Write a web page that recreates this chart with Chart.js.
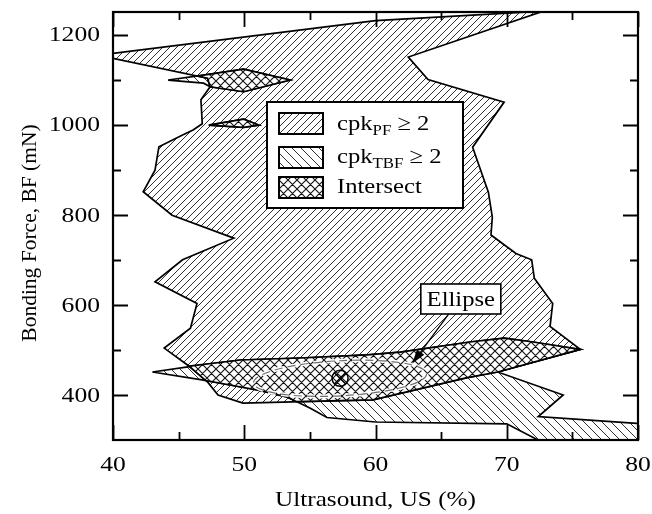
<!DOCTYPE html>
<html>
<head>
<meta charset="utf-8">
<title>Process window: cpk regions</title>
<script src="https://cdn.jsdelivr.net/npm/chart.js@4.4.1/dist/chart.umd.min.js"></script>
<style>
  html, body { margin: 0; padding: 0; background: #fff; }
  canvas { display: block; }
</style>
</head>
<body>
<canvas id="chart" width="652" height="514"></canvas>
<script>
// ---- axis ranges and tick values ----
const X_RANGE = [40, 80];
const Y_RANGE = [300, 1250];
const X_MAJOR_TICKS = [40, 50, 60, 70, 80];
const X_MINOR_TICKS = [45, 55, 65, 75];
const Y_MAJOR_TICKS = [400, 600, 800, 1000, 1200];
const Y_MINOR_TICKS = [500, 700, 900, 1100];

// ---- regions, as [ultrasound %, bonding force mN] vertices ----
// cpk of pull force >= 2
const PF_REGION = [
  [38.9, 1154], [60.0, 1231], [72.8, 1252], [62.5, 1150], [64.0, 1100], [69.8, 1050],
  [67.4, 950], [68.6, 850], [68.9, 795], [68.8, 755], [70.7, 714], [71.9, 700],
  [72.1, 659], [73.5, 603], [73.3, 552], [75.6, 501],
  [69.3, 451], [66.9, 438], [59.8, 389], [49.9, 382], [48.0, 400], [47.2, 429],
  [45.7, 466], [43.9, 504], [45.9, 548], [46.4, 603], [43.2, 651], [45.3, 700],
  [49.2, 748], [44.5, 799], [42.3, 851], [43.2, 899], [43.5, 951], [45.3, 977],
  [46.1, 988], [46.8, 1002], [46.7, 1055], [47.4, 1084], [47.2, 1103], [38.9, 1154]
];
// cpk of ball bond (TBF) >= 2 : lower band and two small islands
const TBF_BAND = [
  [43.0, 451], [46.1, 464], [49.7, 477.6], [54.3, 482], [59.4, 489], [61.9, 495],
  [67.2, 517.5], [69.8, 526], [72.0, 517.5], [75.6, 501], [69.3, 451], [74.3, 400],
  [72.4, 352], [79.9, 337], [82.0, 336], [82.0, 280], [73.7, 280], [70.0, 336],
  [60.0, 340], [56.3, 350], [55.0, 371], [53.3, 395], [51.0, 411], [46.9, 433], [43.0, 451]
];
const TBF_ISLAND_1100 = [
  [44.2, 1099], [46.9, 1110], [49.95, 1123], [53.5, 1099], [49.95, 1073], [47.4, 1084],
  [46.9, 1092], [44.2, 1099]
];
const TBF_ISLAND_1000 = [
  [47.3, 999], [49.95, 1012], [51.1, 999], [49.95, 994], [47.3, 999]
];
// overlap of both windows
const INTERSECT_BAND = [
  [45.8, 464], [49.7, 477.6], [54.3, 482], [59.4, 489], [61.9, 495], [67.2, 517.5],
  [69.8, 526], [72.0, 517.5], [75.6, 501], [69.3, 451], [66.9, 438], [59.8, 389],
  [54.0, 385], [53.3, 395], [51.0, 411], [47.07, 432], [45.8, 464]
];
const INTERSECT_ISLAND_1100 = [
  [46.4, 1108], [46.9, 1110], [49.95, 1123], [53.5, 1099], [49.95, 1073], [47.4, 1084],
  [47.2, 1103], [46.4, 1108]
];
const INTERSECT_ISLAND_1000 = TBF_ISLAND_1000;

// optimum setting and the ellipse drawn round it
const OPTIMUM = [57.3, 437];
const ELLIPSE_SEMI_AXES = [6.6, 39];   // in axis units
const ELLIPSE_TILT_DEG = -3;
const ELLIPSE_LABEL_AT = [66.5, 613];
const ELLIPSE_ARROW_TIP = [62.8, 470];

// ---- text ----
const FONT = '"Liberation Serif", "Times New Roman", Times, serif';
const X_TITLE = 'Ultrasound, US (%)';
const Y_TITLE = 'Bonding Force, BF (mN)';
const LEGEND_ROWS = [
  { main: 'cpk', sub: 'PF', tail: ' \u2265 2', key: 'pf' },
  { main: 'cpk', sub: 'TBF', tail: ' \u2265 2', key: 'tbf' },
  { main: 'Intersect', sub: '', tail: '', key: 'both' }
];

// ---- hatch fills ----
function hatch(size, dirs, bg, color, width) {
  const c = document.createElement('canvas');
  c.width = size; c.height = size;
  const g = c.getContext('2d');
  if (bg) { g.fillStyle = bg; g.fillRect(0, 0, size, size); }
  g.strokeStyle = color;
  g.lineWidth = width;
  g.beginPath();
  for (const d of dirs) {
    for (const o of [-size, 0, size]) {
      if (d === '/') { g.moveTo(o, size); g.lineTo(o + size, 0); }
      else { g.moveTo(o, 0); g.lineTo(o + size, size); }
    }
  }
  g.stroke();
  return g.createPattern(c, 'repeat');
}
const FILLS = {
  pf: hatch(7, ['/'], null, '#1a1a1a', 0.9),
  tbf: hatch(9, ['\\'], null, '#1a1a1a', 0.9),
  both: hatch(9, ['/', '\\'], '#ffffff', '#111111', 1.1)
};

function polygon(label, pts, fill, order) {
  return {
    label,
    data: pts.map(([x, y]) => ({ x, y })),
    showLine: true,
    fill: 'shape',
    backgroundColor: fill,
    borderColor: '#000',
    borderWidth: 1.7,
    borderJoinStyle: 'miter',
    pointRadius: 0,
    pointHoverRadius: 0,
    tension: 0,
    order
  };
}

// draws text widened horizontally like the typeset figure
function wideText(ctx, str, x, y, size, sx, align) {
  ctx.save();
  ctx.font = size + 'px ' + FONT;
  ctx.textBaseline = 'alphabetic';
  ctx.textAlign = align || 'left';
  ctx.translate(x, y);
  ctx.scale(sx, 1);
  ctx.fillStyle = '#000';
  ctx.fillText(str, 0, 0);
  const w = ctx.measureText(str).width * sx;
  ctx.restore();
  return w;
}

const annotations = {
  id: 'annotations',
  afterDatasetsDraw(chart) {
    const { ctx, scales: { x, y } } = chart;
    ctx.save();
    // dashed ellipse
    const cx = x.getPixelForValue(OPTIMUM[0]);
    const cy = y.getPixelForValue(OPTIMUM[1]);
    const rx = Math.abs(x.getPixelForValue(OPTIMUM[0] + ELLIPSE_SEMI_AXES[0]) - cx);
    const ry = Math.abs(y.getPixelForValue(OPTIMUM[1] + ELLIPSE_SEMI_AXES[1]) - cy);
    ctx.beginPath();
    ctx.ellipse(cx, cy, rx, ry, ELLIPSE_TILT_DEG * Math.PI / 180, 0, Math.PI * 2);
    ctx.setLineDash([8, 5]);
    ctx.strokeStyle = '#fff';
    ctx.lineWidth = 4;
    ctx.stroke();
    ctx.strokeStyle = '#6e6e6e';
    ctx.lineWidth = 1.2;
    ctx.stroke();
    ctx.setLineDash([]);

    // label box and arrow
    const lx = x.getPixelForValue(ELLIPSE_LABEL_AT[0]);
    const ly = y.getPixelForValue(ELLIPSE_LABEL_AT[1]);
    const bw = 80, bh = 30;
    const bl = lx - bw / 2, bt = ly - bh / 2;
    const tx = x.getPixelForValue(ELLIPSE_ARROW_TIP[0]);
    const ty = y.getPixelForValue(ELLIPSE_ARROW_TIP[1]);
    const sx0 = bl + bw * 0.35, sy0 = bt + bh;
    const ang = Math.atan2(ty - sy0, tx - sx0);
    const headLen = 14, headHalf = 4.5;
    ctx.strokeStyle = '#000';
    ctx.lineWidth = 1.3;
    ctx.beginPath();
    ctx.moveTo(sx0, sy0);
    ctx.lineTo(tx - Math.cos(ang) * headLen * 0.8, ty - Math.sin(ang) * headLen * 0.8);
    ctx.stroke();
    ctx.beginPath();
    ctx.moveTo(tx, ty);
    ctx.lineTo(tx - Math.cos(ang) * headLen - Math.sin(ang) * headHalf,
               ty - Math.sin(ang) * headLen + Math.cos(ang) * headHalf);
    ctx.lineTo(tx - Math.cos(ang) * headLen + Math.sin(ang) * headHalf,
               ty - Math.sin(ang) * headLen - Math.cos(ang) * headHalf);
    ctx.closePath();
    ctx.fillStyle = '#000';
    ctx.fill();

    ctx.fillStyle = '#fff';
    ctx.fillRect(bl, bt, bw, bh);
    ctx.lineWidth = 1.6;
    ctx.strokeRect(bl, bt, bw, bh);
    wideText(ctx, 'Ellipse', lx, bt + 22, 22, 1.12, 'center');

    // legend
    const L = { left: 267, top: 102, width: 196, height: 106 };
    ctx.fillStyle = '#fff';
    ctx.fillRect(L.left, L.top, L.width, L.height);
    ctx.lineWidth = 2;
    ctx.strokeStyle = '#000';
    ctx.strokeRect(L.left, L.top, L.width, L.height);
    const rowTops = [113, 147, 177];
    const baselines = [129.5, 162.5, 193];
    LEGEND_ROWS.forEach((row, i) => {
      const sxl = 279, sw = 44, sh = 21;
      ctx.fillStyle = FILLS[row.key];
      ctx.fillRect(sxl, rowTops[i], sw, sh);
      ctx.lineWidth = 2;
      ctx.strokeStyle = '#000';
      ctx.strokeRect(sxl, rowTops[i], sw, sh);
      let px = 337;
      px += wideText(ctx, row.main, px, baselines[i], 22, 1.12);
      if (row.sub) px += wideText(ctx, row.sub, px, baselines[i] + 5, 15, 1.12);
      if (row.tail) wideText(ctx, row.tail, px, baselines[i], 22, 1.12);
    });
    ctx.restore();
  }
};

const frame = {
  id: 'frame',
  afterDraw(chart) {
    const { ctx, chartArea: a, scales: { x, y } } = chart;
    ctx.save();
    ctx.strokeStyle = '#000';
    ctx.lineWidth = 1.8;
    ctx.beginPath();
    const xt = (v, len) => {
      const p = Math.round(x.getPixelForValue(v)) + 0.5;
      ctx.moveTo(p, a.bottom); ctx.lineTo(p, a.bottom - len);
      ctx.moveTo(p, a.top); ctx.lineTo(p, a.top + len);
    };
    const yt = (v, len) => {
      const p = Math.round(y.getPixelForValue(v)) + 0.5;
      ctx.moveTo(a.left, p); ctx.lineTo(a.left + len, p);
      ctx.moveTo(a.right, p); ctx.lineTo(a.right - len, p);
    };
    X_MAJOR_TICKS.forEach(v => xt(v, 15));
    X_MINOR_TICKS.forEach(v => xt(v, 8));
    Y_MAJOR_TICKS.forEach(v => yt(v, 15));
    Y_MINOR_TICKS.forEach(v => yt(v, 8));
    ctx.stroke();
    ctx.lineWidth = 2.2;
    ctx.strokeRect(a.left, a.top, a.right - a.left, a.bottom - a.top);

    // tick labels
    X_MAJOR_TICKS.forEach(v => {
      wideText(ctx, String(v), x.getPixelForValue(v), a.bottom + 31, 20, 1.28, 'center');
    });
    Y_MAJOR_TICKS.forEach(v => {
      wideText(ctx, String(v), a.left - 13, y.getPixelForValue(v) + 6.8, 20, 1.28, 'right');
    });
    // axis titles
    wideText(ctx, X_TITLE, (a.left + a.right) / 2, a.bottom + 66, 21, 1.2, 'center');
    ctx.save();
    ctx.translate(36, 233);
    ctx.rotate(-Math.PI / 2);
    wideText(ctx, Y_TITLE, 0, 0, 21.5, 1.0, 'center');
    ctx.restore();
    ctx.restore();
  }
};

const markerBase = {
  showLine: false, pointHoverRadius: 0, order: 0,
  data: [{ x: OPTIMUM[0], y: OPTIMUM[1] }]
};

new Chart(document.getElementById('chart'), {
  type: 'scatter',
  data: {
    datasets: [
      Object.assign({ label: 'optimum', pointStyle: 'circle', pointRadius: 8,
        pointBorderWidth: 1.5, pointBorderColor: '#000', pointBackgroundColor: 'rgba(0,0,0,0)' }, markerBase),
      Object.assign({ label: 'optimum x', pointStyle: 'crossRot', pointRadius: 8,
        pointBorderWidth: 1.5, pointBorderColor: '#000' }, markerBase),
      polygon('Intersect', INTERSECT_BAND, FILLS.both, 1),
      polygon('Intersect', INTERSECT_ISLAND_1100, FILLS.both, 1),
      polygon('Intersect', INTERSECT_ISLAND_1000, FILLS.both, 1),
      polygon('cpkTBF', TBF_BAND, FILLS.tbf, 2),
      polygon('cpkTBF', TBF_ISLAND_1100, FILLS.tbf, 2),
      polygon('cpkTBF', TBF_ISLAND_1000, FILLS.tbf, 2),
      polygon('cpkPF', PF_REGION, FILLS.pf, 3)
    ]
  },
  options: {
    responsive: false,
    animation: false,
    devicePixelRatio: 1,
    events: [],
    layout: { padding: { left: 113, right: 14, top: 12, bottom: 74 } },
    scales: {
      x: { type: 'linear', min: X_RANGE[0], max: X_RANGE[1], display: false },
      y: { type: 'linear', min: Y_RANGE[0], max: Y_RANGE[1], display: false }
    },
    plugins: {
      legend: { display: false },
      tooltip: { enabled: false }
    }
  },
  plugins: [annotations, frame]
});
</script>
</body>
</html>
